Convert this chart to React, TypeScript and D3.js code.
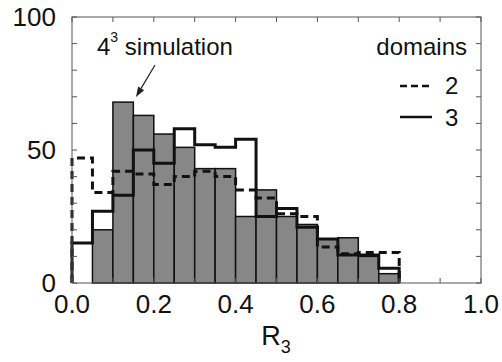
import React from 'react';
import * as d3 from 'd3';

// Histogram bin edges (R3)
const binEdges = [0, 0.05, 0.1, 0.15, 0.2, 0.25, 0.3, 0.35, 0.4, 0.45, 0.5, 0.55, 0.6, 0.65, 0.7, 0.75, 0.8];
// Gray filled bars: 4^3 simulation
const simulation4: (number | null)[] = [null, 20, 68, 63, 56, 51, 43, 43, 25, 35, 25, 22, 16.5, 17, 10, 3.5];
// Dashed outline: 2 domains
const domains2 = [47, 34, 42, 41, 37, 40, 42, 40, 35, 32, 26, 25, 13.5, 11, 11.5, 11.5];
// Solid outline: 3 domains
const domains3 = [15, 27, 33, 50, 45, 58, 52, 51, 54, 25, 28, 21, 16.5, 10.5, 10.5, 5.5];

const xTicks = [0, 0.1, 0.2, 0.3, 0.4, 0.5, 0.6, 0.7, 0.8, 0.9, 1.0];
const xTickLabels = [
  { v: 0, t: '0.0' }, { v: 0.2, t: '0.2' }, { v: 0.4, t: '0.4' },
  { v: 0.6, t: '0.6' }, { v: 0.8, t: '0.8' }, { v: 1.0, t: '1.0' },
];
const yTicks = [0, 10, 20, 30, 40, 50, 60, 70, 80, 90, 100];
const yTickLabels = [0, 50, 100];

const FONT = '"Liberation Sans", Arial, Helvetica, sans-serif';

export default function App() {
  const x = d3.scaleLinear().domain([0, 1]).range([72, 481]);
  const y = d3.scaleLinear().domain([0, 100]).range([283, 17]);

  const stepPoints = (vals: number[]) => {
    const pts: [number, number][] = [[binEdges[0], 0]];
    vals.forEach((v, i) => {
      pts.push([binEdges[i], v]);
      pts.push([binEdges[i + 1], v]);
    });
    pts.push([binEdges[vals.length], 0]);
    return pts;
  };
  const line = d3.line<[number, number]>().x(d => x(d[0])).y(d => y(d[1]));

  // annotation arrow
  const ax1 = 155, ay1 = 65, ax2 = 136, ay2 = 97;
  const dx = ax2 - ax1, dy = ay2 - ay1;
  const len = Math.hypot(dx, dy);
  const ux = dx / len, uy = dy / len;
  const bx = ax2 - 10 * ux, by = ay2 - 10 * uy;
  const px = -uy, py = ux;
  const head = `${ax2},${ay2} ${bx + 3.5 * px},${by + 3.5 * py} ${bx - 3.5 * px},${by - 3.5 * py}`;

  return (
    <svg width={502} height={362} style={{ position: 'absolute', left: 0, top: 0, background: '#fff' }}
      fontFamily={FONT}>
      <rect x={0} y={0} width={502} height={362} fill="#fff" />
      {/* gray bars */}
      {simulation4.map((v, i) =>
        v == null ? null : (
          <rect key={'b' + i}
            x={x(binEdges[i])} y={y(v)}
            width={x(binEdges[i + 1]) - x(binEdges[i])}
            height={y(0) - y(v)}
            fill="#878787" stroke="#111" strokeWidth={1.5} />
        ))}
      {/* 2 domains dashed */}
      <path d={line(stepPoints(domains2)) || ''} fill="none" stroke="#111" strokeWidth={3}
        strokeDasharray="8,5" />
      {/* 3 domains solid */}
      <path d={line(stepPoints(domains3)) || ''} fill="none" stroke="#111" strokeWidth={3}
        strokeLinejoin="miter" />

      {/* frame */}
      <rect x={x(0)} y={y(100)} width={x(1) - x(0)} height={y(0) - y(100)}
        fill="none" stroke="#555" strokeWidth={1} />
      {xTicks.map(t => (
        <g key={'xt' + t}>
          <line x1={x(t)} x2={x(t)} y1={y(0)} y2={y(0) - 5} stroke="#555" strokeWidth={1} />
          <line x1={x(t)} x2={x(t)} y1={y(100)} y2={y(100) + 5} stroke="#555" strokeWidth={1} />
        </g>
      ))}
      {yTicks.map(t => (
        <g key={'yt' + t}>
          <line x1={x(0)} x2={x(0) + 5} y1={y(t)} y2={y(t)} stroke="#555" strokeWidth={1} />
          <line x1={x(1)} x2={x(1) - 5} y1={y(t)} y2={y(t)} stroke="#555" strokeWidth={1} />
        </g>
      ))}
      {xTickLabels.map(d => (
        <text key={'xl' + d.v} x={x(d.v)} y={313} textAnchor="middle" fontSize={26} fill="#111">{d.t}</text>
      ))}
      {yTickLabels.map(v => (
        <text key={'yl' + v} x={56} y={y(v)} dy="0.35em" textAnchor="end" fontSize={26} fill="#111">{v}</text>
      ))}
      {/* x axis title */}
      <text x={276} y={345} textAnchor="middle" fontSize={27} fill="#111">
        R<tspan fontSize={18} dy={8}>3</tspan>
      </text>

      {/* annotation */}
      <text x={97} y={55} fontSize={24} fill="#111">
        4<tspan fontSize={14} dy={-13}>3</tspan><tspan dy={13}> simulation</tspan>
      </text>
      <line x1={ax1} y1={ay1} x2={bx} y2={by} stroke="#222" strokeWidth={1.2} />
      <polygon points={head} fill="#222" />

      {/* legend */}
      <text x={467} y={55} textAnchor="end" fontSize={24} fill="#111">domains</text>
      <line x1={400} x2={432} y1={86} y2={86} stroke="#111" strokeWidth={2.5} strokeDasharray="7,4" />
      <text x={445} y={94} fontSize={24} fill="#111">2</text>
      <line x1={400} x2={432} y1={117} y2={117} stroke="#111" strokeWidth={2.5} />
      <text x={445} y={126} fontSize={24} fill="#111">3</text>
    </svg>
  );
}
